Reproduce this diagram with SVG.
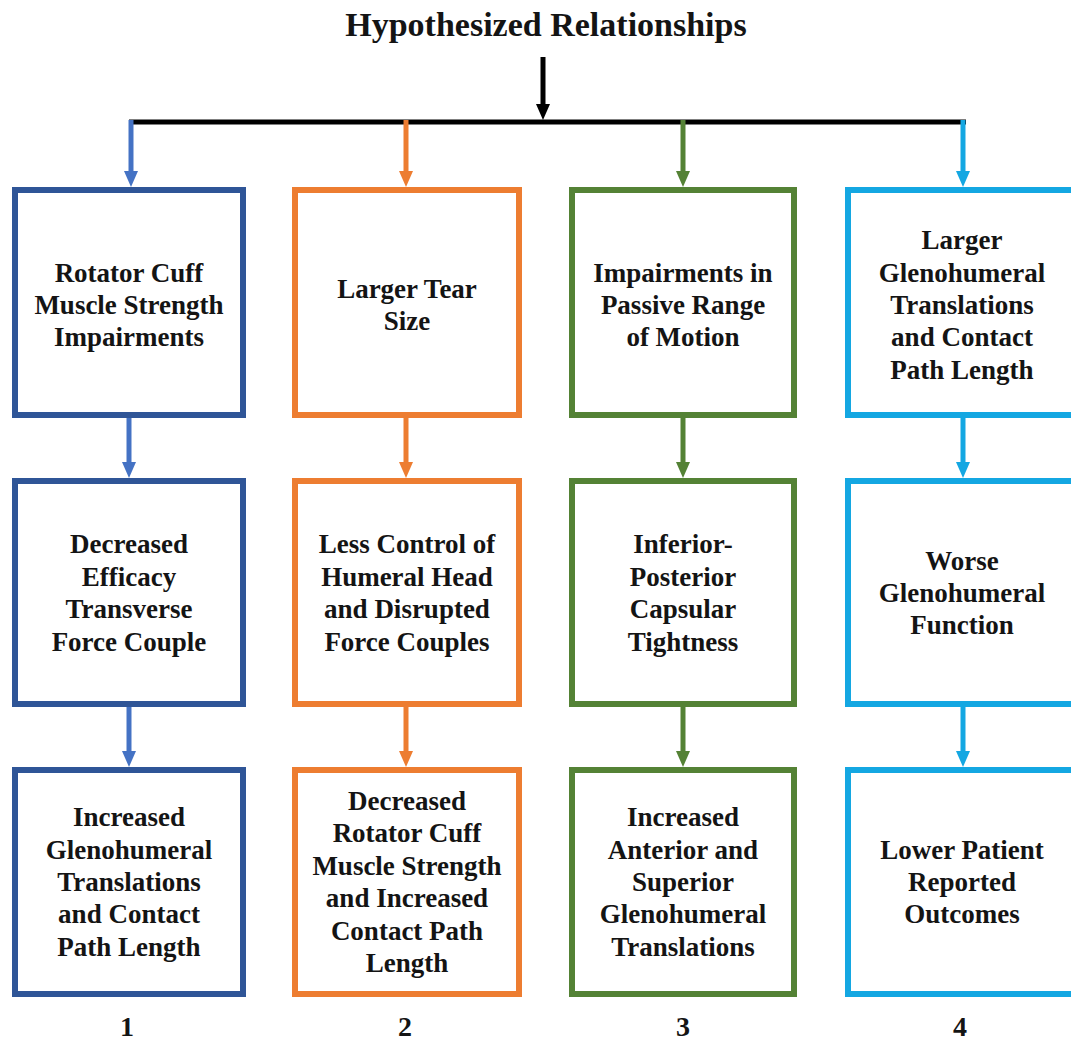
<svg xmlns="http://www.w3.org/2000/svg" width="1071" height="1040" viewBox="0 0 1071 1040">
  <style>
    .t { font-family: "Liberation Serif", "Times New Roman", serif; font-weight: bold; font-size: 27px; fill: #141414; text-anchor: middle; }
    .title { font-size: 34px; }
    .num { font-size: 28px; }
    .box { fill: #ffffff; stroke-width: 6; }
    .c1 { stroke: #2F5597; }
    .c2 { stroke: #ED7D31; }
    .c3 { stroke: #548235; }
    .c4 { stroke: #14A7E2; }
    .ln { fill: none; stroke-width: 5; }
    .a1 { stroke: #4472C4; }
    .a2 { stroke: #ED7D31; }
    .a3 { stroke: #548235; }
    .a4 { stroke: #14A7E2; }
    .ak { stroke: #000000; }
  </style>
  <defs>
    <marker id="m1" viewBox="0 0 16 14" refX="6" refY="7" markerWidth="16" markerHeight="14" markerUnits="userSpaceOnUse" orient="auto"><path d="M0,0 L16,7 L0,14 z" fill="#4472C4"/></marker>
    <marker id="m2" viewBox="0 0 16 14" refX="6" refY="7" markerWidth="16" markerHeight="14" markerUnits="userSpaceOnUse" orient="auto"><path d="M0,0 L16,7 L0,14 z" fill="#ED7D31"/></marker>
    <marker id="m3" viewBox="0 0 16 14" refX="6" refY="7" markerWidth="16" markerHeight="14" markerUnits="userSpaceOnUse" orient="auto"><path d="M0,0 L16,7 L0,14 z" fill="#548235"/></marker>
    <marker id="m4" viewBox="0 0 16 14" refX="6" refY="7" markerWidth="16" markerHeight="14" markerUnits="userSpaceOnUse" orient="auto"><path d="M0,0 L16,7 L0,14 z" fill="#14A7E2"/></marker>
    <marker id="mk" viewBox="0 0 16 14" refX="6" refY="7" markerWidth="16" markerHeight="14" markerUnits="userSpaceOnUse" orient="auto"><path d="M0,0 L16,7 L0,14 z" fill="#000000"/></marker>
  </defs>

  <rect width="1071" height="1040" fill="#ffffff"/>

  <text id="title" class="t title" x="546" y="36">Hypothesized Relationships</text>

  <!-- connectors -->
  <g id="connectors">
    <line class="ln ak" x1="543" y1="57" x2="543" y2="110" marker-end="url(#mk)"/>
    <line class="ln ak" x1="129" y1="122" x2="966" y2="122"/>

    <line class="ln a1" x1="131" y1="120" x2="131" y2="177" marker-end="url(#m1)"/>
    <line class="ln a2" x1="406" y1="120" x2="406" y2="177" marker-end="url(#m2)"/>
    <line class="ln a3" x1="683" y1="120" x2="683" y2="177" marker-end="url(#m3)"/>
    <line class="ln a4" x1="963" y1="120" x2="963" y2="177" marker-end="url(#m4)"/>

    <line class="ln a1" x1="129" y1="418" x2="129" y2="468" marker-end="url(#m1)"/>
    <line class="ln a2" x1="406" y1="418" x2="406" y2="468" marker-end="url(#m2)"/>
    <line class="ln a3" x1="683" y1="418" x2="683" y2="468" marker-end="url(#m3)"/>
    <line class="ln a4" x1="963" y1="418" x2="963" y2="468" marker-end="url(#m4)"/>

    <line class="ln a1" x1="129" y1="707" x2="129" y2="757" marker-end="url(#m1)"/>
    <line class="ln a2" x1="406" y1="707" x2="406" y2="757" marker-end="url(#m2)"/>
    <line class="ln a3" x1="683" y1="707" x2="683" y2="757" marker-end="url(#m3)"/>
    <line class="ln a4" x1="963" y1="707" x2="963" y2="757" marker-end="url(#m4)"/>
  </g>

  <!-- column 1 -->
  <g id="n1a">
    <rect class="box c1" x="15" y="190" width="228" height="225"/>
    <text class="t"><tspan x="129" y="281.6">Rotator Cuff</tspan><tspan x="129" y="314">Muscle Strength</tspan><tspan x="129" y="346.4">Impairments</tspan></text>
  </g>
  <g id="n1b">
    <rect class="box c1" x="15" y="481" width="228" height="223"/>
    <text class="t"><tspan x="129" y="553.4">Decreased</tspan><tspan x="129" y="585.8">Efficacy</tspan><tspan x="129" y="618.2">Transverse</tspan><tspan x="129" y="650.6">Force Couple</tspan></text>
  </g>
  <g id="n1c">
    <rect class="box c1" x="15" y="770" width="228" height="224"/>
    <text class="t"><tspan x="129" y="826.2">Increased</tspan><tspan x="129" y="858.6">Glenohumeral</tspan><tspan x="129" y="891">Translations</tspan><tspan x="129" y="923.4">and Contact</tspan><tspan x="129" y="955.8">Path Length</tspan></text>
  </g>

  <!-- column 2 -->
  <g id="n2a">
    <rect class="box c2" x="295" y="190" width="224" height="225"/>
    <text class="t"><tspan x="407" y="297.8">Larger Tear</tspan><tspan x="407" y="330.2">Size</tspan></text>
  </g>
  <g id="n2b">
    <rect class="box c2" x="295" y="481" width="224" height="223"/>
    <text class="t"><tspan x="407" y="553.4">Less Control of</tspan><tspan x="407" y="585.8">Humeral Head</tspan><tspan x="407" y="618.2">and Disrupted</tspan><tspan x="407" y="650.6">Force Couples</tspan></text>
  </g>
  <g id="n2c">
    <rect class="box c2" x="295" y="770" width="224" height="224"/>
    <text class="t"><tspan x="407" y="810">Decreased</tspan><tspan x="407" y="842.4">Rotator Cuff</tspan><tspan x="407" y="874.8">Muscle Strength</tspan><tspan x="407" y="907.2">and Increased</tspan><tspan x="407" y="939.6">Contact Path</tspan><tspan x="407" y="972">Length</tspan></text>
  </g>

  <!-- column 3 -->
  <g id="n3a">
    <rect class="box c3" x="572" y="190" width="222" height="225"/>
    <text class="t"><tspan x="683" y="281.6">Impairments in</tspan><tspan x="683" y="314">Passive Range</tspan><tspan x="683" y="346.4">of Motion</tspan></text>
  </g>
  <g id="n3b">
    <rect class="box c3" x="572" y="481" width="222" height="223"/>
    <text class="t"><tspan x="683" y="553.4">Inferior-</tspan><tspan x="683" y="585.8">Posterior</tspan><tspan x="683" y="618.2">Capsular</tspan><tspan x="683" y="650.6">Tightness</tspan></text>
  </g>
  <g id="n3c">
    <rect class="box c3" x="572" y="770" width="222" height="224"/>
    <text class="t"><tspan x="683" y="826.2">Increased</tspan><tspan x="683" y="858.6">Anterior and</tspan><tspan x="683" y="891">Superior</tspan><tspan x="683" y="923.4">Glenohumeral</tspan><tspan x="683" y="955.8">Translations</tspan></text>
  </g>

  <!-- column 4 -->
  <g id="n4a">
    <rect class="box c4" x="848" y="190" width="228" height="225"/>
    <text class="t"><tspan x="962" y="249.2">Larger</tspan><tspan x="962" y="281.6">Glenohumeral</tspan><tspan x="962" y="314">Translations</tspan><tspan x="962" y="346.4">and Contact</tspan><tspan x="962" y="378.8">Path Length</tspan></text>
  </g>
  <g id="n4b">
    <rect class="box c4" x="848" y="481" width="228" height="223"/>
    <text class="t"><tspan x="962" y="569.6">Worse</tspan><tspan x="962" y="602">Glenohumeral</tspan><tspan x="962" y="634.4">Function</tspan></text>
  </g>
  <g id="n4c">
    <rect class="box c4" x="848" y="770" width="228" height="224"/>
    <text class="t"><tspan x="962" y="858.6">Lower Patient</tspan><tspan x="962" y="891">Reported</tspan><tspan x="962" y="923.4">Outcomes</tspan></text>
  </g>

  <!-- column numbers -->
  <g id="labels">
    <text class="t num" x="127" y="1036">1</text>
    <text class="t num" x="405" y="1036">2</text>
    <text class="t num" x="683" y="1036">3</text>
    <text class="t num" x="960" y="1036">4</text>
  </g>
</svg>
